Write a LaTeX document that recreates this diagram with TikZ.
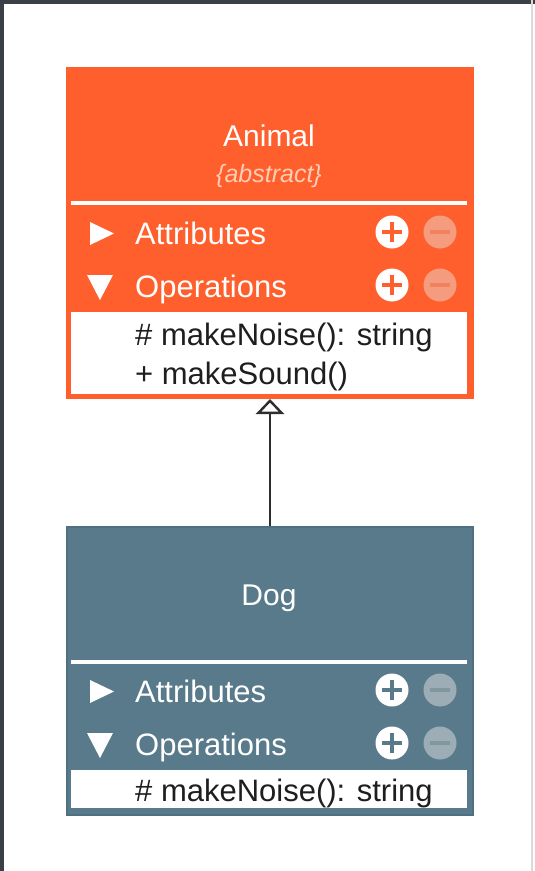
\documentclass[tikz,border=0pt]{standalone}
\usepackage{fontspec}
\setmainfont{Liberation Sans}
\usetikzlibrary{arrows.meta}

\definecolor{animalorange}{HTML}{FE5F2C}
\definecolor{animalfaded}{HTML}{F59C7E}
\definecolor{animalbar}{HTML}{F2825E}
\definecolor{abstractpeach}{HTML}{FFCDB4}
\definecolor{dogteal}{HTML}{587A8A}
\definecolor{dogedge}{HTML}{4E7181}
\definecolor{dogfaded}{HTML}{9DADB6}
\definecolor{dogbar}{HTML}{80979F}
\definecolor{framedark}{HTML}{3B4047}
\definecolor{framelight}{HTML}{D8DADC}
\definecolor{methodtext}{HTML}{1E1E1E}
\definecolor{arrowgray}{HTML}{2E2E2E}

\begin{document}
\begin{tikzpicture}[x=1pt, y=-1pt,
    classbox/.style={rectangle, anchor=north west, minimum width=406pt, inner sep=0pt, line width=2pt},
    classname/.style={anchor=base, text=white, inner sep=0pt, font=\fontsize{30}{36}\selectfont},
    section/.style={anchor=base west, text=white, inner sep=0pt, font=\fontsize{31}{37}\selectfont},
    method/.style={anchor=base west, text=methodtext, inner sep=0pt, font=\fontsize{31}{37}\selectfont},
    plusbtn/.style={circle, fill=white, minimum size=33pt, inner sep=0pt,
      path picture={\draw[line width=3.5pt, #1]
        ([xshift=-10pt]path picture bounding box.center) -- ([xshift=10pt]path picture bounding box.center)
        ([yshift=-10pt]path picture bounding box.center) -- ([yshift=10pt]path picture bounding box.center);}},
    minusbtn/.style 2 args={circle, fill=#1, minimum size=33pt, inner sep=0pt,
      path picture={\draw[line width=3.5pt, #2]
        ([xshift=-10pt]path picture bounding box.center) -- ([xshift=10pt]path picture bounding box.center);}},
    separator/.style={white, line width=4pt},
    inherit/.style={-{Triangle[open, width=28pt, length=15pt]}, line width=2.4pt, arrowgray}]
  \useasboundingbox (0, 0) rectangle (535, 871);
  % Draw the screen frame
  \fill[white] (0, 0) rectangle (535, 871);
  \fill[framedark] (0, 0) rectangle (535, 4);
  \fill[framedark] (0, 0) rectangle (3.5, 871);
  \fill[framelight] (531, 0) rectangle (533, 871);
  % Draw the boxes
  \node[classbox, minimum height=330pt, fill=animalorange, draw=animalorange] (animal) at (66, 67) {};
  \node[classbox, minimum height=288pt, fill=dogteal, draw=dogedge] (dog) at (66, 526) {};
  \draw[separator] (71, 203) -- (467, 203);
  \draw[separator] (71, 662) -- (467, 662);
  \fill[white] (71, 312) rectangle (467, 394);
  \fill[white] (71, 770) rectangle (467, 808);
  % Draw the Animal class
  \node[classname] (animalname) at (269, 146) {Animal};
  \node[classname, text=abstractpeach, font=\fontsize{25}{30}\selectfont\itshape] (abstract) at (269, 182) {\{abstract\}};
  \fill[white] (90, 222) -- (114, 233.5) -- (90, 245) -- cycle;
  \node[section] (animalattr) at (135, 244) {Attributes};
  \node[plusbtn=animalorange] (animalattrplus) at (392, 232) {};
  \node[minusbtn={animalfaded}{animalbar}] (animalattrminus) at (440, 232) {};
  \fill[white] (87, 275) -- (113, 275) -- (100, 300) -- cycle;
  \node[section] (animalops) at (135, 297) {Operations};
  \node[plusbtn=animalorange] (animalopsplus) at (392, 285) {};
  \node[minusbtn={animalfaded}{animalbar}] (animalopsminus) at (440, 285) {};
  \node[method] (animalnoise) at (135, 345) {\# makeNoise(): string};
  \node[method] (animalsound) at (135, 384) {+ makeSound()};
  % Draw the Dog class
  \node[classname] (dogname) at (269, 605) {Dog};
  \fill[white] (90, 680) -- (114, 691.5) -- (90, 703) -- cycle;
  \node[section] (dogattr) at (135, 702) {Attributes};
  \node[plusbtn=dogteal] (dogattrplus) at (392, 690) {};
  \node[minusbtn={dogfaded}{dogbar}] (dogattrminus) at (440, 690) {};
  \fill[white] (87, 733) -- (113, 733) -- (100, 758) -- cycle;
  \node[section] (dogops) at (135, 755) {Operations};
  \node[plusbtn=dogteal] (dogopsplus) at (392, 743) {};
  \node[minusbtn={dogfaded}{dogbar}] (dogopsminus) at (440, 743) {};
  \node[method] (dognoise) at (135, 801) {\# makeNoise(): string};
  % Draw the inheritance arrow
  \draw[inherit] (dog.north) -- (animal.south);
\end{tikzpicture}
\end{document}
